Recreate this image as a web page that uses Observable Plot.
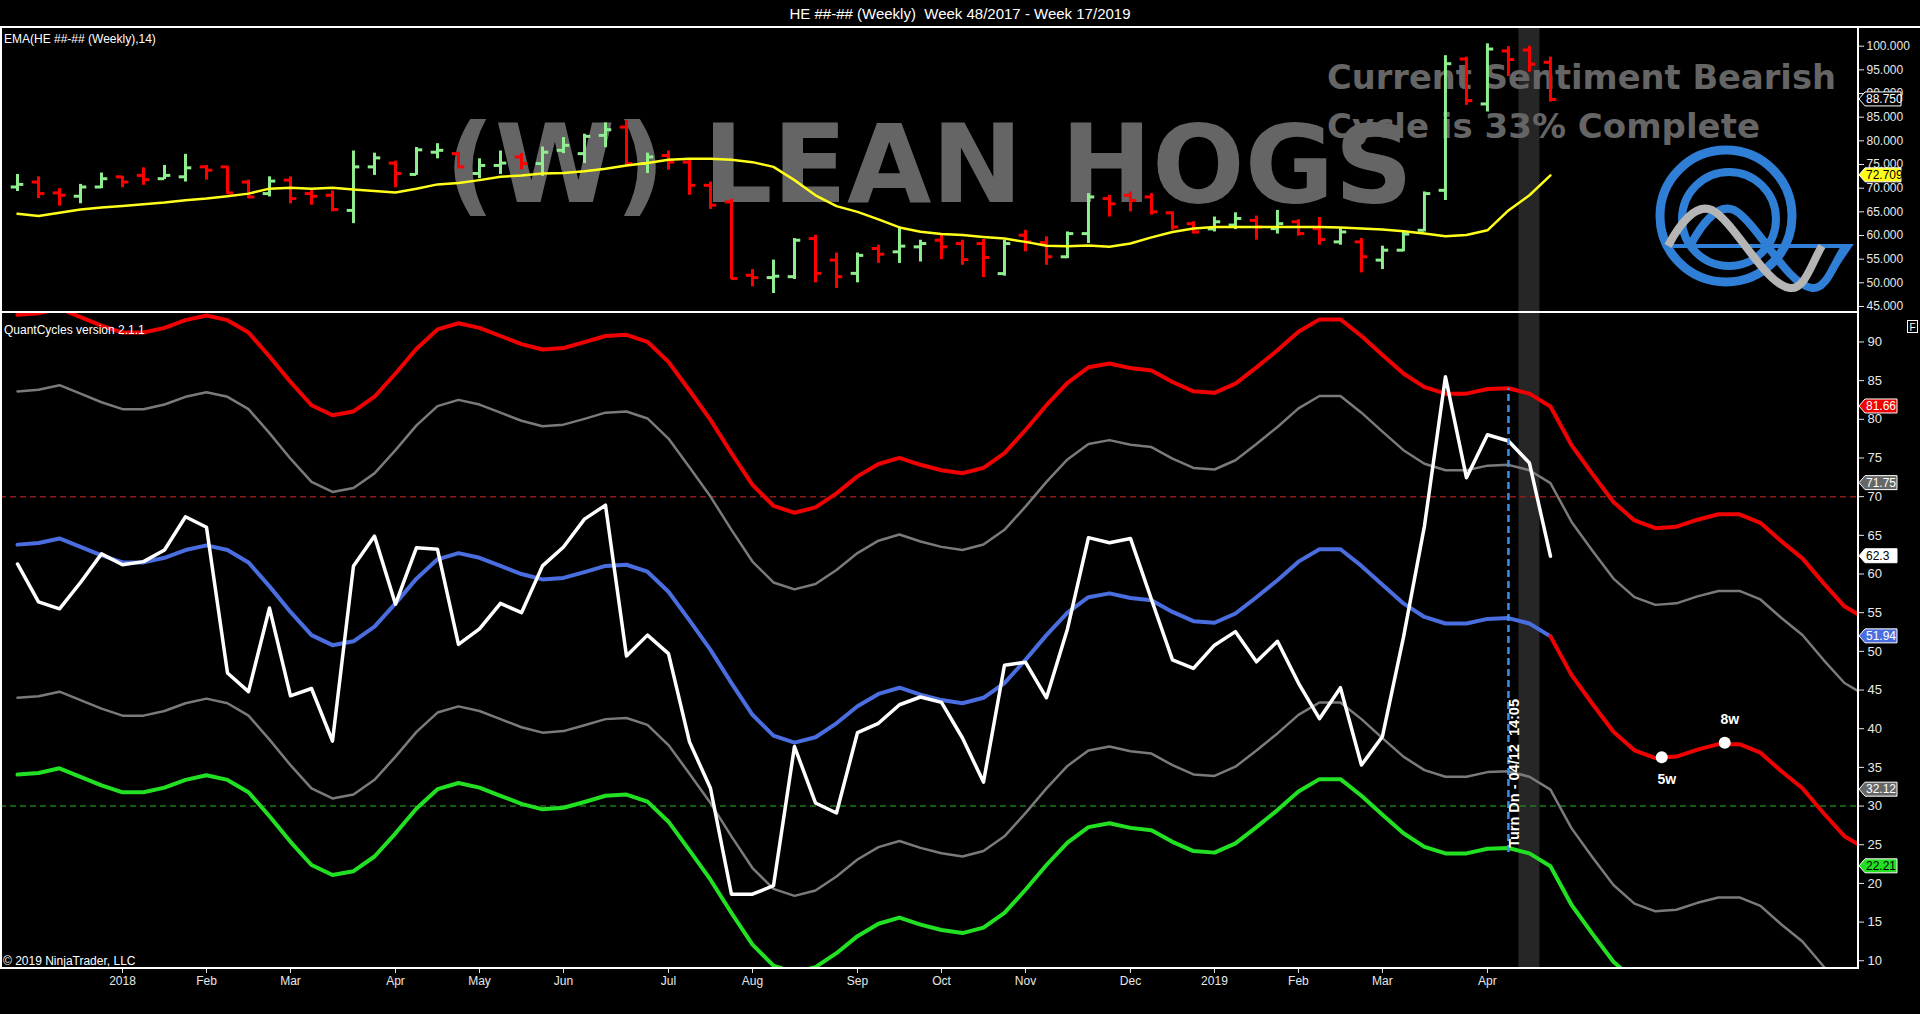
<!DOCTYPE html>
<html>
<head>
<meta charset="utf-8">
<script src="https://cdn.jsdelivr.net/npm/d3@7"></script>
<script src="https://cdn.jsdelivr.net/npm/@observablehq/plot@0.6"></script>
<style>
html, body { margin:0; padding:0; background:#000; }
#root { position:relative; width:1920px; height:1014px; background:#000; overflow:hidden; font-family:"Liberation Sans", Arial, sans-serif; color:#fff; }
.hline, .vline { position:absolute; background:#fff; z-index:3; }
#title { position:absolute; top:5px; left:0; width:1920px; text-align:center; font-size:15px; white-space:pre; color:#fff; }
.small { position:absolute; font-size:12px; white-space:pre; color:#fff; z-index:4; }
#root svg.chart { position:absolute; left:0; display:block; }
#overlay { position:absolute; left:0; top:0; z-index:5; pointer-events:none; }
</style>
</head>
<body>
<div id="root">
  <div id="title">HE ##-## (Weekly)  Week 48/2017 - Week 17/2019</div>
</div>
<script>
// ---------------- DATA (weekly bars, index 0 = week ending 1 Dec 2017) ----------------
const opens  = [70.25,71.3,69.0,68.3,70.25,72.4,72.7,72.0,72.4,74.5,74.5,71.3,68.85,71.7,68.85,68.5,65.3,74.5,75.3,72.9,77.6,77.3,73.1,74.8,76.6,75.2,78.0,77.3,81.15,82.9,75.2,76.9,75.5,70.6,67.1,51.6,51.1,51.3,59.35,54.8,52.0,57.25,56.55,57.6,59.0,58.3,58.3,51.95,60.05,58.5,55.5,60.4,67.8,68.5,68.15,64.8,62.5,61.4,62.2,63.2,61.45,62.9,61.45,58.65,58.65,54.8,56.9,61.1,69.55,97.3,87.8,99.0,99.2,96.6];
const highs  = [72.9,72.4,69.9,70.8,73.2,72.5,74.3,74.8,77.15,74.8,74.6,71.7,72.4,72.4,69.7,69.4,77.85,77.4,75.7,78.6,79.4,77.6,76.2,77.85,77.3,78.7,80.7,81.4,83.8,84.3,77.4,77.85,76.0,71.3,67.6,52.8,54.8,59.35,60.05,56.3,56.3,57.95,61.8,59.0,60.3,59.0,59.15,59.0,61.1,59.7,60.75,68.85,68.5,69.2,68.85,65.0,62.9,63.9,64.8,64.1,65.3,63.35,63.8,61.7,59.35,57.75,60.75,69.2,98.0,97.7,100.5,99.9,100.0,97.7];
const lows   = [69.3,67.8,66.2,66.7,69.9,70.1,70.6,71.8,71.3,71.7,68.7,67.8,68.15,66.7,66.4,65.0,62.5,72.7,70.1,72.7,76.2,74.1,72.0,72.9,73.9,72.5,77.3,75.2,78.55,74.8,73.1,73.8,68.5,65.5,50.7,49.15,47.75,50.7,50.0,48.8,50.0,54.1,54.1,54.4,54.9,53.7,51.1,51.4,56.55,53.7,55.1,58.3,63.9,65.0,64.3,61.1,60.3,60.75,61.25,59.0,60.3,59.85,57.95,57.95,52.1,52.8,56.55,60.75,67.4,87.5,86.1,93.6,94.5,88.2];
const closes = [70.8,68.85,68.5,70.25,72.0,71.3,71.8,72.7,74.3,73.8,69.0,68.15,71.5,67.8,68.3,65.5,74.5,76.4,73.1,78.1,78.0,74.5,74.8,75.3,75.2,77.6,79.05,80.95,82.35,75.2,76.6,75.5,70.6,66.4,50.9,51.1,51.4,59.0,52.0,51.3,55.8,56.05,57.75,58.3,57.6,54.9,55.35,58.3,58.65,55.5,60.4,68.15,66.7,67.4,65.0,61.8,60.75,62.9,63.6,61.8,62.5,60.4,59.15,60.75,55.5,56.9,60.3,68.85,96.3,88.5,99.4,97.2,96.2,88.75];
const ema14  = [64.6,64.1,64.8,65.5,65.9,66.25,66.6,66.95,67.45,67.8,68.3,68.85,69.9,70.1,69.9,70.1,69.7,69.4,69.1,69.9,70.8,71.1,71.7,72.4,72.7,73.1,73.2,73.6,74.1,74.8,75.3,76.0,76.2,76.2,76.0,75.5,74.5,71.7,68.5,66.2,65.0,63.4,61.7,60.8,60.3,60.1,59.7,59.35,58.65,57.85,57.75,57.9,57.6,58.3,59.6,60.75,61.5,61.8,61.8,61.8,61.8,61.8,61.8,61.7,61.5,61.25,60.9,60.4,59.85,60.1,61.1,65.3,68.5,72.709];

// QuantCycles: cycle centre line (bars 0..73 actual, 74..88 projection), band half-widths, oscillator
const cycleCenter = [63.8,64.0,64.6,63.5,62.4,61.5,61.5,62.1,63.1,63.7,63.1,61.5,58.4,55.1,52.1,50.8,51.3,53.2,56.2,59.4,61.9,62.7,62.1,61.05,60.0,59.3,59.5,60.25,61.05,61.2,60.3,57.7,54.0,50.2,45.9,41.8,39.1,38.2,38.9,40.7,42.9,44.5,45.3,44.4,43.7,43.3,44.0,45.9,48.9,52.1,55.0,57.0,57.5,56.9,56.6,55.1,53.9,53.7,54.9,57.0,59.2,61.6,63.2,63.2,61.05,58.6,56.2,54.45,53.6,53.6,54.2,54.3,53.6,51.94,46.96,43.2,39.6,37.2,36.2,36.4,37.3,38.0,38.0,36.9,34.5,32.3,29.1,26.1,24.5];
const lastBar = 73;
const outerBand = 29.72;
const innerBand = 19.81;
const oscillator = [61.3,56.4,55.5,58.9,62.6,61.2,61.6,63.1,67.4,66.05,47.2,44.8,55.6,44.25,45.2,38.4,61.05,64.9,56.1,63.4,63.2,50.9,52.9,56.2,55.0,61.05,63.5,67.1,68.9,49.4,52.1,49.7,38.3,32.3,18.6,18.6,19.7,37.7,30.4,29.1,39.5,40.7,43.1,44.1,43.4,38.8,33.1,48.2,48.6,44.0,52.9,64.7,64.04,64.6,56.7,48.9,47.8,50.8,52.55,48.65,51.3,45.9,41.3,45.3,35.3,39.0,51.8,66.2,85.5,72.45,78.0,77.2,74.35,62.3];

const monthTickBars   = [5,9,13,18,22,26,31,35,40,44,48,53,57,61,65,70];
const monthTickLabels = ["2018","Feb","Mar","Apr","May","Jun","Jul","Aug","Sep","Oct","Nov","Dec","2019","Feb","Mar","Apr"];
const priceTicks = [45,50,55,60,65,70,75,80,85,90,95,100];
const cycleTicks = [10,15,20,25,30,35,40,45,50,55,60,65,70,75,80,85,90];
const cycleLevels = [70, 30];
const shadedBar = [72];
const turnBar = [71];
const turnLow = 24.0, turnHigh = 84.0;
const turnLabel = "Turn Dn - 04/12  14:05";
const projBars   = [78.3, 81.3];
const projValues = [36.3, 38.2];
const projLabels = ["5w", "8w"];
const priceTagValues = [88.75, 72.709];
const priceTagText   = ["88.750", "72.709"];
const cycleTagValues = [81.66, 71.75, 62.3, 51.94, 32.12, 22.21];
const cycleTagText   = ["81.66", "71.75", "62.3", "51.94", "32.12", "22.21"];

// ---------------- STYLE ----------------
const UP = "#90ee90", DOWN = "#ff0000";
const C_RED = "#f00000", C_GRAY = "#7a7a7a", C_BLUE = "#4a6ee0", C_GREEN = "#22e022";
const FONT = "Liberation Sans, Arial, sans-serif";
const xDomain = [-0.81, 87.67];
const root = document.getElementById("root");

// ---------------- TABLES ----------------
const bars = opens.map((o, i) => ({i, o, h: highs[i], l: lows[i], c: closes[i], col: closes[i] >= o ? UP : DOWN}));
const emaRows = ema14.map((v, i) => ({i, v}));
const centerRows = cycleCenter.map((v, i) => ({i, v}));
const actualRows = centerRows.filter(d => d.i <= lastBar);
const projRows = centerRows.filter(d => d.i >= lastBar);
const oscRows = oscillator.map((v, i) => ({i, v}));
const dots = projBars.map((b, k) => ({i: b, v: projValues[k], label: projLabels[k]}));

// ---------------- TOP PANEL (price) ----------------
const topPlot = Plot.plot({
  width: 1920, height: 285,
  marginLeft: 0, marginRight: 62, marginTop: 0, marginBottom: 0,
  style: {background: "transparent", color: "#e8e8e8", fontFamily: FONT, fontSize: "12px", overflow: "visible"},
  x: {domain: xDomain, axis: null},
  y: {domain: [43.73, 103.95]},
  marks: [
    Plot.rect(shadedBar, {x1: d => d - 0.5, x2: d => d + 0.5, fill: "#262626"}),
    Plot.ruleX(bars, {x: "i", y1: "l", y2: "h", stroke: "col", strokeWidth: 3}),
    Plot.ruleY(bars, {y: "o", x1: d => d.i - 0.3, x2: "i", stroke: "col", strokeWidth: 3}),
    Plot.ruleY(bars, {y: "c", x1: "i", x2: d => d.i + 0.3, stroke: "col", strokeWidth: 3}),
    Plot.line(emaRows, {x: "i", y: "v", stroke: "#ffff1a", strokeWidth: 2.5}),
    Plot.axisY(priceTicks, {anchor: "right", tickSize: 5, tickPadding: 3, tickFormat: d => d.toFixed(3), label: null, color: "#e8e8e8", fontSize: 12})
  ]
});
topPlot.setAttribute("class", (topPlot.getAttribute("class") || "") + " chart");
topPlot.style.top = "27px";
topPlot.style.zIndex = 1;
root.appendChild(topPlot);

// watermark texts placed above the shaded column, beneath the bars
{
  const ns = "http://www.w3.org/2000/svg";
  const g = document.createElementNS(ns, "g");
  g.setAttribute("text-anchor", "start");
  const mk = (txt, x, y, size, len) => {
    const t = document.createElementNS(ns, "text");
    t.setAttribute("x", x); t.setAttribute("y", y);
    t.setAttribute("text-anchor", "start");
    t.setAttribute("font-family", "DejaVu Sans, sans-serif");
    t.setAttribute("font-weight", "bold");
    t.setAttribute("font-size", size);
    t.setAttribute("fill", "#656565");
    t.setAttribute("textLength", len);
    t.setAttribute("lengthAdjust", "spacingAndGlyphs");
    t.textContent = txt;
    g.appendChild(t);
  };
  mk("(W) LEAN HOGS", 445, 175, 108, 968);
  mk("Current Sentiment Bearish", 1327, 62, 34, 509);
  mk("Cycle is 33% Complete", 1327, 111, 34, 433);
  const rectG = topPlot.querySelector('g[aria-label="rect"]');
  rectG.after(g);
}

function pennant(svg, y, text, fill, textColor, w) {
  const x0 = 1859, h = 7;
  const g = svg.append("g").attr("text-anchor", "start");
  g.append("path")
    .attr("d", `M${x0},${y}L${x0 + 6},${y - h}L${x0 + w},${y - h}L${x0 + w},${y + h}L${x0 + 6},${y + h}Z`)
    .attr("fill", fill).attr("stroke", "#fff").attr("stroke-width", 1);
  g.append("text").attr("x", x0 + 7).attr("y", y).attr("dy", "0.36em").attr("text-anchor", "start")
    .attr("font-size", 12).attr("font-family", FONT).attr("fill", textColor).text(text);
}
{
  const ys = topPlot.scale("y");
  const s = d3.select(topPlot);
  pennant(s, ys.apply(priceTagValues[0]), priceTagText[0], "#000", "#fff", 42);
  pennant(s, ys.apply(priceTagValues[1]), priceTagText[1], "#ffff1a", "#000", 42);
}

// ---------------- BOTTOM PANEL (QuantCycles) ----------------
const botPlot = Plot.plot({
  width: 1920, height: 702,
  marginLeft: 0, marginRight: 62, marginTop: 1, marginBottom: 46,
  style: {background: "transparent", color: "#e8e8e8", fontFamily: FONT, fontSize: "12px", overflow: "visible"},
  x: {domain: xDomain, label: null},
  y: {domain: [9.0, 93.68], label: null},
  marks: [
    Plot.rect(shadedBar, {x1: d => d - 0.5, x2: d => d + 0.5, fill: "#262626"}),
    Plot.ruleY(cycleLevels.slice(0, 1), {stroke: "#8c1c1c", strokeWidth: 1.5, strokeDasharray: "6,4"}),
    Plot.ruleY(cycleLevels.slice(1, 2), {stroke: "#1c7a1c", strokeWidth: 1.5, strokeDasharray: "6,4"}),
    Plot.line(centerRows, {x: "i", y: d => d.v + innerBand, stroke: C_GRAY, strokeWidth: 2.5, clip: true}),
    Plot.line(centerRows, {x: "i", y: d => d.v - innerBand, stroke: C_GRAY, strokeWidth: 2.5, clip: true}),
    Plot.line(centerRows, {x: "i", y: d => d.v + outerBand, stroke: C_RED, strokeWidth: 4, clip: true}),
    Plot.line(centerRows, {x: "i", y: d => d.v - outerBand, stroke: C_GREEN, strokeWidth: 4, clip: true}),
    Plot.line(actualRows, {x: "i", y: "v", stroke: C_BLUE, strokeWidth: 4, clip: true}),
    Plot.line(projRows, {x: "i", y: "v", stroke: C_RED, strokeWidth: 4, clip: true}),
    Plot.line(oscRows, {x: "i", y: "v", stroke: "#ffffff", strokeWidth: 3.5, clip: true}),
    Plot.ruleX(turnBar, {x: d => d, y1: turnLow, y2: turnHigh, stroke: "#3d8fe6", strokeWidth: 2.5, strokeDasharray: "7,4"}),
    Plot.text(turnBar, {x: d => d, y: turnLow + 0.6, text: () => turnLabel, rotate: -90, textAnchor: "start", lineAnchor: "top", fill: "#fff", fontWeight: "bold", fontSize: 14.5, dx: 0}),
    Plot.dot(dots, {x: "i", y: "v", r: 6, fill: "#fff"}),
    Plot.text(dots.slice(0, 1), {x: "i", y: "v", text: "label", dy: 22, dx: 5, fill: "#fff", fontWeight: "bold", fontSize: 14}),
    Plot.text(dots.slice(1, 2), {x: "i", y: "v", text: "label", dy: -23, dx: 5, fill: "#fff", fontWeight: "bold", fontSize: 14}),
    Plot.axisY(cycleTicks, {anchor: "right", tickSize: 5, tickPadding: 4, label: null, color: "#e8e8e8", fontSize: 13}),
    Plot.axisX(monthTickBars, {anchor: "bottom", tickSize: 5, tickPadding: 3, label: null, color: "#e8e8e8", fontSize: 12,
      tickFormat: d => monthTickLabels[monthTickBars.indexOf(d)]})
  ]
});
botPlot.setAttribute("class", (botPlot.getAttribute("class") || "") + " chart");
botPlot.style.top = "312px";
botPlot.style.zIndex = 1;
root.appendChild(botPlot);
{
  const ys = botPlot.scale("y");
  const s = d3.select(botPlot);
  const fills = [C_RED, "#666666", "#ffffff", C_BLUE, "#666666", C_GREEN];
  const tcol  = ["#fff", "#fff", "#000", "#fff", "#fff", "#000"];
  cycleTagValues.forEach((v, k) => pennant(s, ys.apply(v), cycleTagText[k], fills[k], tcol[k], 38));
}

// ---------------- FRAME LINES & SMALL TEXTS ----------------
function line(cls, css) { const d = document.createElement("div"); d.className = cls; Object.assign(d.style, css); root.appendChild(d); }
line("hline", {left: "0px", top: "26px", width: "1920px", height: "2px"});
line("hline", {left: "0px", top: "311px", width: "1859px", height: "2px"});
line("hline", {left: "0px", top: "967px", width: "1859px", height: "2px"});
line("vline", {left: "1857px", top: "27px", width: "2px", height: "941px"});
line("vline", {left: "0px", top: "27px", width: "2px", height: "941px"});
function small(txt, left, top, size) { const d = document.createElement("div"); d.className = "small"; d.textContent = txt; d.style.left = left + "px"; d.style.top = top + "px"; d.style.fontSize = size + "px"; root.appendChild(d); }
small("EMA(HE ##-## (Weekly),14)", 4, 32, 12);
small("QuantCycles version 2.1.1", 4, 323, 12);
small("\u00a9 2019 NinjaTrader, LLC", 3, 954, 12);

// ---------------- OVERLAY: logo and F box ----------------
{
  const ov = d3.select(root).append("svg").attr("id", "overlay").attr("width", 1920).attr("height", 1014);
  const blue = "#2f7fd6";
  ov.append("circle").attr("cx", 1726).attr("cy", 216).attr("r", 66).attr("fill", "none").attr("stroke", blue).attr("stroke-width", 9);
  ov.append("circle").attr("cx", 1729).attr("cy", 219).attr("r", 47).attr("fill", "none").attr("stroke", blue).attr("stroke-width", 8);
  ov.append("path").attr("d", "M1668,246L1850,246L1822,287L1808,287").attr("fill", "none").attr("stroke", blue).attr("stroke-width", 4);
  ov.append("path").attr("d", "M1690,246 C1707,214 1722,205 1734,210 C1757,222 1787,285 1812,288 C1827,290 1834,262 1846,246")
    .attr("fill", "none").attr("stroke", blue).attr("stroke-width", 8);
  ov.append("path").attr("d", "M1668,246 C1685,214 1700,205 1712,210 C1735,222 1765,285 1790,288 C1805,290 1812,262 1822,246")
    .attr("fill", "none").attr("stroke", "#b5b5b5").attr("stroke-width", 8);
  ov.append("rect").attr("x", 1907.5).attr("y", 320.5).attr("width", 10).attr("height", 12).attr("fill", "none").attr("stroke", "#fff").attr("stroke-width", 1);
  ov.append("text").attr("x", 1912.5).attr("y", 330.5).attr("text-anchor", "middle").attr("font-size", 10).attr("font-family", FONT).attr("fill", "#fff").text("F");
}
</script>
</body>
</html>
